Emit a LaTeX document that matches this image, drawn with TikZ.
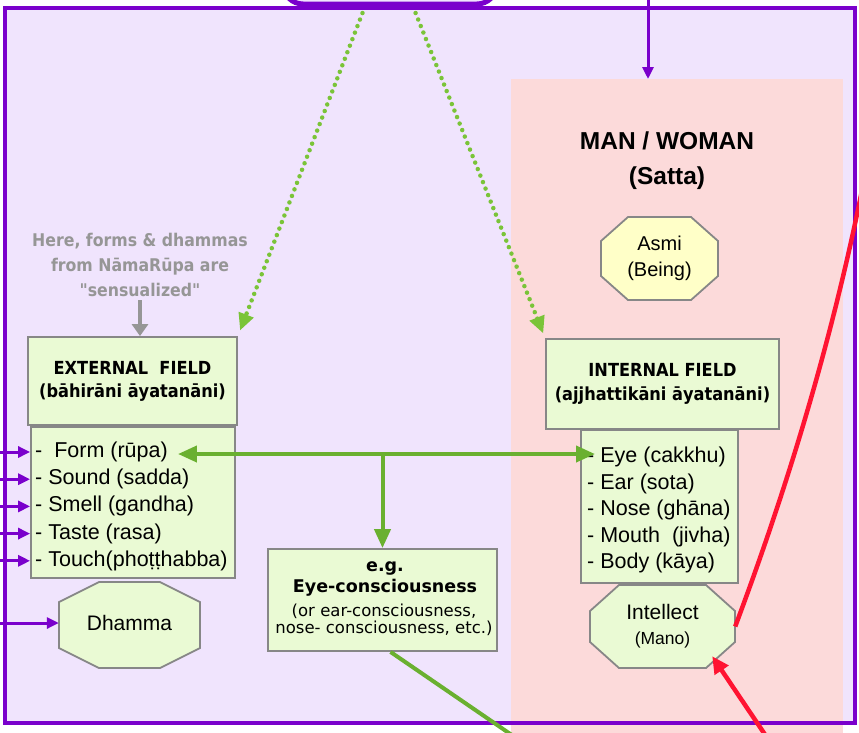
\documentclass[tikz,border=0pt]{standalone}
\usepackage{fontspec}
\setmainfont{Liberation Sans}
\newfontfamily\tahoma{DejaVu Sans Condensed}
\newfontfamily\verdana{DejaVu Sans}
\usetikzlibrary{arrows.meta}

\definecolor{framepurple}{RGB}{122,0,204}
\definecolor{lavender}{RGB}{240,228,253}
\definecolor{pinkzone}{RGB}{252,218,218}
\definecolor{boxgreen}{RGB}{234,250,212}
\definecolor{boxgray}{RGB}{135,135,135}
\definecolor{asmiyellow}{RGB}{255,255,200}
\definecolor{arrowgreen}{RGB}{106,176,48}
\definecolor{dotgreen}{RGB}{122,196,56}
\definecolor{tanha}{RGB}{255,20,50}
\definecolor{notegray}{RGB}{150,150,150}

% centre x, centre y, half width, half height, cut x, cut y, fill
\newcommand{\octagon}[7]{%
  \filldraw[fill=#7, draw=boxgray, line width=1.8pt]
    (#1-#3+#5,#2-#4) -- (#1+#3-#5,#2-#4) -- (#1+#3,#2-#4+#6) -- (#1+#3,#2+#4-#6)
    -- (#1+#3-#5,#2+#4) -- (#1-#3+#5,#2+#4) -- (#1-#3,#2+#4-#6) -- (#1-#3,#2-#4+#6) -- cycle;}

\begin{document}
\begin{tikzpicture}[x=1pt,y=-1pt]
        \tikzset{field/.style = {draw=boxgray, line width=1.8pt, fill=boxgreen}}
        \tikzset{item/.style = {anchor=west, inner sep=0pt, font=\fontsize{21.5}{21.5}\selectfont}}
        \tikzset{sense/.style = {-{Triangle[length=12pt,width=11pt]}, framepurple, line width=3pt}}
        \tikzset{link/.style = {arrowgreen, line width=4pt}}
        \tikzset{linktip/.style = {link, -{Triangle[length=19pt,width=16pt]}}}
        \tikzset{hint/.style = {dotgreen, line width=4.5pt, line cap=round, dash pattern=on 0pt off 7pt, -{Triangle[length=17pt,width=15pt]}}}
        \useasboundingbox (0,0) rectangle (859,732);
        % frame and zones
        \fill[lavender] (5,8) rectangle (855,723);
        \fill[pinkzone] (511,79) rectangle (843,745);
        \draw[framepurple, line width=3.5pt] (5,8) rectangle (855,723);
        \node[draw=framepurple, line width=5pt, fill=lavender, rounded corners=20pt, minimum width=214pt, minimum height=70pt] (namarupa) at (390,-31) {};
        \coordinate (satta) at (677,79);
        \coordinate (topin) at (648,-10);
        \draw[sense] (topin) -- (topin |- satta);
        % man / woman
        \node[font=\bfseries\fontsize{24.5}{35}\selectfont, align=center] (sattatitle) at (667,160.5) {MAN / WOMAN\\(Satta)};
        \octagon{659.5}{258.5}{58.5}{41.5}{27}{24}{asmiyellow}
        \node[align=center, font=\fontsize{20}{26}\selectfont] (asmi) at (659.5,258.5) {Asmi\\(Being)};
        % external field
        \node[font=\tahoma\bfseries\fontsize{17.5}{25}\selectfont, text=notegray, align=center] (note) at (140,265) {Here, forms \& dhammas\\from NāmaRūpa are\\"sensualized"};
        \node[field, minimum width=209pt, minimum height=88pt, align=center, font=\tahoma\bfseries\fontsize{18}{23}\selectfont] (extfield) at (132.5,381) {EXTERNAL\ \ FIELD\\(bāhirāni āyatanāni)};
        \node[field, minimum width=204pt, minimum height=151pt] (extlist) at (133,502.5) {};
        \foreach \sense [count=\i] in {\ Form (rūpa), Sound (sadda), Smell (gandha), Taste (rasa), Touch(phoṭṭhabba)}
            \node[item] (ext\i) at (35,{452+27.2*(\i-1)}) {- \sense};
        \octagon{129.5}{625}{70.5}{43}{40}{20}{boxgreen}
        \node[minimum width=141pt, minimum height=86pt, font=\fontsize{21}{21}\selectfont] (dhamma) at (129.5,623) {Dhamma};
        \draw[notegray, line width=3.5pt, -{Triangle[length=12pt,width=16pt]}] (note.south) -- (note.south |- extfield.north);
        % internal field
        \node[field, minimum width=233pt, minimum height=90pt, align=center, font=\tahoma\bfseries\fontsize{18}{24}\selectfont] (intfield) at (662.5,384) {INTERNAL FIELD\\(ajjhattikāni āyatanāni)};
        \node[field, minimum width=157pt, minimum height=153pt] (intlist) at (659.5,506.5) {};
        \foreach \sense [count=\i] in {Eye (cakkhu), Ear (sota), Nose (ghāna), Mouth\ \ (jivha), Body (kāya)}
            \node[item] (int\i) at (587,{457+26.5*(\i-1)}) {- \sense};
        \octagon{662.5}{626.5}{72.5}{41.5}{29}{26}{boxgreen}
        \node[minimum width=145pt, minimum height=83pt, align=center, font=\fontsize{21}{25}\selectfont] (intellect) at (662.5,626.5) {Intellect\\{\fontsize{17.5}{17.5}\selectfont (Mano)}};
        % consciousness
        \node[field, minimum width=229pt, minimum height=102pt] (eyecons) at (382.5,600) {};
        \node[font=\verdana\bfseries\fontsize{17.5}{21}\selectfont, align=center] (eyetitle) at (385,579) {e.g.\\Eye-consciousness};
        \node[font=\verdana\fontsize{16.5}{17}\selectfont, align=center] (eyenote) at (384,620) {(or ear-consciousness,\\nose- consciousness, etc.)};
        % arrows
        \coordinate (outside) at (-5,0);
        \foreach \i in {1,...,5}
            \draw[sense] (outside |- ext\i) -- (extlist.west |- ext\i);
        \draw[sense] (outside |- dhamma) -- (dhamma.west);
        \draw[hint, shorten <=7pt, shorten >=6pt] ([xshift=-25pt]namarupa.south) -- (extfield.north east);
        \draw[hint, shorten <=7pt, shorten >=5pt] ([xshift=23pt]namarupa.south) -- (intfield.north west);
        \coordinate (fork) at (eyecons.north |- 0,454);
        \draw[link, {Triangle[length=19pt,width=16pt]}-{Triangle[length=19pt,width=16pt]}] ([xshift=10pt]ext1.east |- fork) -- ([xshift=8pt]int1.west |- fork);
        \draw[linktip] (fork) -- (eyecons.north);
        \coordinate (consout) at (522,742);
        \draw[link] ([xshift=8pt]eyecons.south) -- (consout);
        \coordinate (craving) at (866,170);
        \draw[tanha, line width=4.5pt] (craving) .. controls (835,330) and (790,480) .. (intellect.east);
        \coordinate (contact) at (770,742);
        \draw[tanha, line width=4.5pt, -{Triangle[length=17pt,width=16pt]}] (contact) -- ([xshift=-23pt,yshift=12pt]intellect.south east);
\end{tikzpicture}
\end{document}
